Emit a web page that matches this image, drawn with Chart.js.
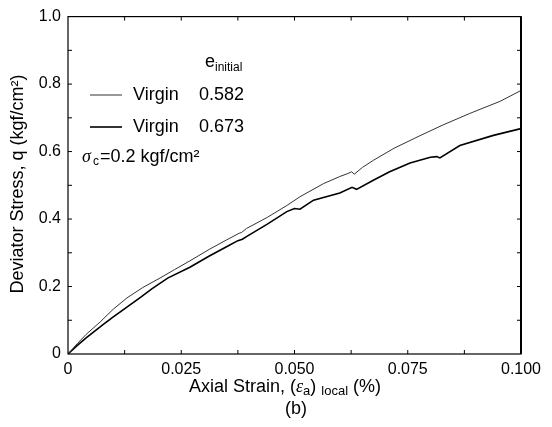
<!DOCTYPE html>
<html>
<head>
<meta charset="utf-8">
<script src="https://cdn.jsdelivr.net/npm/chart.js@4.4.1/dist/chart.umd.min.js"></script>
<style>
  html, body { margin: 0; padding: 0; background: #fff; }
  #wrap { width: 552px; height: 427px; }
</style>
</head>
<body>
<div id="wrap"><canvas id="grafico" width="552" height="427"></canvas></div>
<script>
// datos
const strain582 = [0, 0.0020, 0.0040, 0.0071, 0.0100, 0.0130, 0.0165, 0.0203, 0.0235, 0.0269, 0.0313, 0.0350, 0.0378, 0.0383, 0.0394, 0.0440, 0.0483, 0.0512, 0.0564, 0.0600, 0.0618, 0.0626, 0.0632, 0.0650, 0.0674, 0.0720, 0.0777, 0.0828, 0.0887, 0.0954, 0.1000];
const stress582 = [0, 0.030, 0.058, 0.095, 0.133, 0.166, 0.197, 0.225, 0.250, 0.276, 0.311, 0.338, 0.358, 0.360, 0.372, 0.405, 0.440, 0.466, 0.505, 0.526, 0.535, 0.540, 0.533, 0.553, 0.574, 0.610, 0.647, 0.679, 0.713, 0.749, 0.781];

const strain673 = [0, 0.0020, 0.0040, 0.0078, 0.0100, 0.0130, 0.0160, 0.0185, 0.0220, 0.0269, 0.0313, 0.0350, 0.0375, 0.0385, 0.0394, 0.0440, 0.0483, 0.0500, 0.0512, 0.0542, 0.0600, 0.0627, 0.0637, 0.0674, 0.0710, 0.0755, 0.0800, 0.0814, 0.0821, 0.0865, 0.0939, 0.1000];
const stress673 = [0, 0.025, 0.048, 0.088, 0.110, 0.139, 0.168, 0.193, 0.225, 0.257, 0.291, 0.318, 0.336, 0.340, 0.348, 0.385, 0.422, 0.431, 0.429, 0.456, 0.477, 0.494, 0.488, 0.515, 0.540, 0.566, 0.583, 0.585, 0.581, 0.618, 0.648, 0.668];

const xTickLabels = ['0', '0.025', '0.050', '0.075', '0.100'];
const yTickLabels = ['0', '0.2', '0.4', '0.6', '0.8', '1.0'];

const toPoints = (xs, ys) => xs.map((x, i) => ({ x: x, y: ys[i] }));

Chart.defaults.font.family = '"Liberation Sans", Arial, sans-serif';
Chart.defaults.color = '#000';

const SANS = '"Liberation Sans", Arial';

// dibuja marco, ticks interiores, leyenda y titulos
const decor = {
  id: 'decor',
  beforeDraw(chart) {
    const c = chart.ctx;
    c.save();
    c.fillStyle = '#fff';
    c.fillRect(0, 0, chart.width, chart.height);
    c.restore();
  },
  afterDraw(chart) {
    const c = chart.ctx;
    const a = chart.chartArea;
    const sx = chart.scales.x;
    const sy = chart.scales.y;
    c.save();
    c.strokeStyle = '#000';
    c.lineWidth = 1.2;
    c.strokeRect(a.left, a.top, a.right - a.left, a.bottom - a.top);
    c.lineWidth = 2;
    c.beginPath();
    c.moveTo(a.right, a.top);
    c.lineTo(a.right, a.bottom);
    c.stroke();

    c.lineWidth = 1;
    c.beginPath();
    for (let i = 1; i < 8; i++) {
      const px = sx.getPixelForValue(i * 0.0125);
      c.moveTo(px, a.bottom); c.lineTo(px, a.bottom - 4);
      c.moveTo(px, a.top); c.lineTo(px, a.top + 4);
    }
    for (let i = 1; i < 10; i++) {
      const py = sy.getPixelForValue(i * 0.1);
      c.moveTo(a.left, py); c.lineTo(a.left + 4, py);
      c.moveTo(a.right, py); c.lineTo(a.right - 4, py);
    }
    c.stroke();

    // leyenda
    const ds = chart.data.datasets;
    c.fillStyle = '#000';
    c.textBaseline = 'middle';
    c.font = '18px ' + SANS;
    c.fillText('e', 205, 62);
    c.font = '12px ' + SANS;
    c.fillText('initial', 215, 68);

    const rows = [{ y: 95, v: '0.582', d: ds[0] }, { y: 127, v: '0.673', d: ds[1] }];
    rows.forEach(r => {
      c.strokeStyle = r.legendColor || r.d.borderColor;
      c.lineWidth = r.d.borderWidth;
      c.beginPath();
      c.moveTo(90, r.y); c.lineTo(122, r.y);
      c.stroke();
      c.font = '18px ' + SANS;
      c.fillText('Virgin', 133, r.y);
      c.fillText(r.v, 199, r.y);
    });

    c.font = 'italic 18px "Liberation Serif", serif';
    c.fillText('σ', 82, 157);
    c.font = '12px ' + SANS;
    c.fillText('c', 93, 162);
    c.font = '18px ' + SANS;
    c.fillText('=0.2 kgf/cm²', 100, 157);

    // titulo eje x (con subindices)
    const yt = 387;
    const parts = [
      ['Axial Strain, (', '18px ' + SANS, 0],
      ['ε', 'italic 18px "Liberation Serif", serif', 0],
      ['a', '13px ' + SANS, 4],
      [') ', '18px ' + SANS, 0],
      ['local', '13px ' + SANS, 4],
      [' (%)', '18px ' + SANS, 0]
    ];
    let w = 0;
    parts.forEach(p => { c.font = p[1]; w += c.measureText(p[0]).width; });
    let x = 285 - w / 2;
    parts.forEach(p => {
      c.font = p[1];
      c.fillText(p[0], x, yt + p[2]);
      x += c.measureText(p[0]).width;
    });

    c.textAlign = 'center';
    c.font = '18px ' + SANS;
    c.fillText('(b)', 296, 409);

    // titulo eje y
    c.translate(18, 184);
    c.rotate(-Math.PI / 2);
    c.fillText('Deviator Stress, q (kgf/cm²)', 0, 0);
    c.restore();
  }
};

const config = {
  type: 'scatter',
  data: {
    datasets: [
      {
        label: 'Virgin 0.582',
        data: toPoints(strain582, stress582),
        showLine: true,
        borderColor: '#333',
        borderWidth: 1,
        pointRadius: 0,
        tension: 0
      },
      {
        label: 'Virgin 0.673',
        data: toPoints(strain673, stress673),
        showLine: true,
        borderColor: '#000',
        borderWidth: 1.6,
        pointRadius: 0,
        tension: 0
      }
    ]
  },
  options: {
    responsive: false,
    animation: false,
    layout: { padding: { left: 0, right: 31, top: 14, bottom: 0 } },
    plugins: { legend: { display: false }, tooltip: { enabled: false } },
    scales: {
      x: {
        type: 'linear',
        min: 0,
        max: 0.1,
        grid: { display: false, drawTicks: false },
        border: { display: false },
        ticks: {
          stepSize: 0.025,
          padding: 6,
          maxRotation: 0,
          font: { size: 16 },
          callback: (v) => xTickLabels[Math.round(v / 0.025)]
        },
        afterFit: (s) => { s.height = 73; }
      },
      y: {
        type: 'linear',
        min: 0,
        max: 1,
        grid: { display: false, drawTicks: false },
        border: { display: false },
        ticks: {
          stepSize: 0.2,
          padding: 7,
          font: { size: 16 },
          callback: (v) => yTickLabels[Math.round(v / 0.2)]
        },
        afterFit: (s) => { s.width = 68; }
      }
    }
  },
  plugins: [decor]
};

window.addEventListener('DOMContentLoaded', () => {
  const ctx = document.getElementById('grafico').getContext('2d');
  new Chart(ctx, config);
});
</script>
</body>
</html>
